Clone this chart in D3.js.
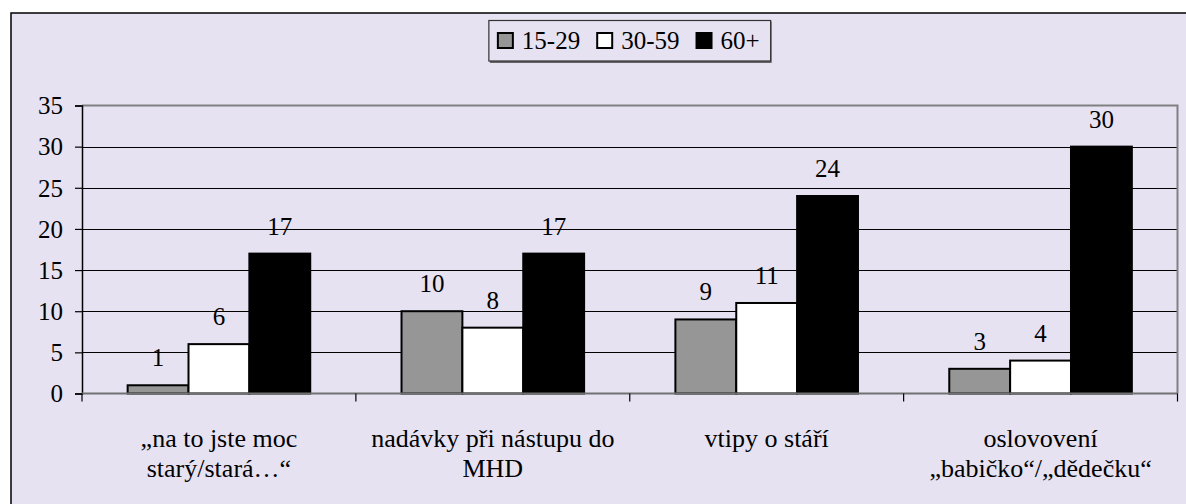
<!DOCTYPE html>
<html>
<head>
<meta charset="utf-8">
<script src="https://cdn.jsdelivr.net/npm/d3@7"></script>
<style>
  html, body { margin: 0; padding: 0; background: #ffffff; }
  svg { display: block; }
</style>
</head>
<body>
<svg id="chart" width="1186" height="504"></svg>
<script>
// Categories (x axis), two-line labels as shown under each group
const categories = ["na to jste moc", "nadávky", "vtipy", "oslovování"];
const categoryLabels = [
  ["\u201Ena to jste moc", "starý/stará\u2026\u201C"],
  ["nadávky při nástupu do", "MHD"],
  ["vtipy o stáří"],
  ["oslovovení", "\u201Ebabičko\u201C/\u201Ed\u011Bdečku\u201C"]
];

// Age groups (series)
const series = ["15-29", "30-59", "60+"];
const values1529 = [1, 10, 9, 3];
const values3059 = [6, 8, 11, 4];
const values60 = [17, 17, 24, 30];
const seriesValues = [values1529, values3059, values60];
const seriesColors = ["#969696", "#ffffff", "#000000"];

// Y axis ticks
const yTicks = [0, 5, 10, 15, 20, 25, 30, 35];

const svg = d3.select("#chart");
const FONT = 25;
const CAT_FONT = 26;
const FAMILY = "Liberation Serif, Times New Roman, serif";
const BG = "#e6e2f2";

// Chart area frame
svg.append("rect")
  .attr("x", 11).attr("y", 13)
  .attr("width", 1186).attr("height", 520)
  .attr("fill", BG)
  .attr("stroke", "#000").attr("stroke-width", 1.5);

const plot = { left: 82, right: 1177.5, top: 105.5, bottom: 393.5 };

const x0 = d3.scaleBand().domain(categories).range([plot.left, plot.right]).padding(0);
const x1 = d3.scaleBand().domain(series).range([0, x0.bandwidth()])
  .paddingInner(0).paddingOuter(0.75);
const y = d3.scaleLinear().domain([0, 35]).range([plot.bottom, plot.top]);

// Horizontal gridlines
svg.append("g").selectAll("line")
  .data(yTicks.filter(t => t > 0 && t < 35))
  .join("line")
  .attr("x1", plot.left).attr("x2", plot.right)
  .attr("y1", d => Math.round(y(d)) + 0.5).attr("y2", d => Math.round(y(d)) + 0.5)
  .attr("stroke", "#000").attr("stroke-width", 1);

// Plot area border (top and right)
svg.append("path")
  .attr("d", `M${plot.left},${y(35)}H${plot.right}V${plot.bottom}`)
  .attr("fill", "none").attr("stroke", "#808080").attr("stroke-width", 2);

// Bars
const groups = svg.append("g").selectAll("g")
  .data(categories)
  .join("g")
  .attr("transform", d => `translate(${x0(d)},0)`);

groups.selectAll("rect")
  .data((c, i) => series.map((s, j) => ({ s, j, v: seriesValues[j][i] })))
  .join("rect")
  .attr("x", d => x1(d.s))
  .attr("y", d => y(d.v))
  .attr("width", x1.bandwidth())
  .attr("height", d => y(0) - y(d.v))
  .attr("fill", d => seriesColors[d.j])
  .attr("stroke", "#000").attr("stroke-width", 2);

// Value labels above bars
groups.selectAll("text.val")
  .data((c, i) => series.map((s, j) => ({ s, j, v: seriesValues[j][i] })))
  .join("text")
  .attr("class", "val")
  .attr("x", d => x1(d.s) + x1.bandwidth() / 2)
  .attr("y", d => y(d.v) - 19)
  .attr("text-anchor", "middle")
  .attr("font-family", FAMILY)
  .attr("font-size", FONT)
  .text(d => d.v);

// Y axis
const yAxis = d3.axisLeft(y).tickValues(yTicks).tickSize(7).tickPadding(12).tickFormat(d3.format("d"));
const gy = svg.append("g").attr("transform", `translate(${plot.left},0)`).call(yAxis)
  .attr("font-family", FAMILY).attr("font-size", FONT);
gy.select(".domain").attr("stroke", "#000").attr("stroke-width", 1.5);
gy.selectAll(".tick line").attr("stroke", "#000").attr("stroke-width", 1.2);
gy.selectAll(".tick text").attr("fill", "#000").attr("dy", "0.33em");

// X axis line and category boundary ticks
svg.append("line")
  .attr("x1", plot.left).attr("x2", plot.right)
  .attr("y1", y(0)).attr("y2", y(0))
  .attr("stroke", "#707070").attr("stroke-width", 2);
const boundaries = categories.map(c => x0(c)).concat([plot.right]);
svg.append("g").selectAll("line")
  .data(boundaries)
  .join("line")
  .attr("x1", d => d).attr("x2", d => d)
  .attr("y1", y(0)).attr("y2", y(0) + 8)
  .attr("stroke", "#000").attr("stroke-width", 1.2);

// Category labels
const catLabels = svg.append("g").selectAll("text")
  .data(categories)
  .join("text")
  .attr("text-anchor", "middle")
  .attr("font-family", FAMILY)
  .attr("font-size", CAT_FONT)
  .attr("fill", "#000")
  .attr("x", d => x0(d) + x0.bandwidth() / 2);
catLabels.each(function (d, i) {
  d3.select(this).selectAll("tspan")
    .data(categoryLabels[i])
    .join("tspan")
    .attr("x", x0(d) + x0.bandwidth() / 2)
    .attr("y", (t, k) => 447 + k * 30)
    .text(t => t);
});

// Legend
const legend = svg.append("g");
const legendShadow = legend.append("rect").attr("fill", "#666");
const legendBox = legend.append("rect")
  .attr("fill", BG)
  .attr("stroke", "#333").attr("stroke-width", 1.2);
const sw = 17;
let lx = 0;
const items = legend.selectAll("g.item")
  .data(series)
  .join("g").attr("class", "item");
items.each(function (s, i) {
  const g = d3.select(this).attr("transform", `translate(${lx},0)`);
  g.append("rect")
    .attr("x", 1).attr("y", -sw + 1).attr("width", sw - 2).attr("height", sw - 2)
    .attr("fill", seriesColors[i]).attr("stroke", "#000").attr("stroke-width", 2);
  const t = g.append("text").attr("x", 25).attr("y", 0)
    .attr("font-family", FAMILY)
    .attr("font-size", FONT)
    .attr("fill", "#000")
    .text(s);
  lx += 25 + t.node().getComputedTextLength() + 16;
});
const legendWidth = lx - 16;
const legendCx = (plot.left + plot.right) / 2;
const legendX = legendCx - legendWidth / 2 - 1.5;
legend.attr("transform", `translate(${legendX},49)`);
legendBox
  .attr("x", -8).attr("y", -28.5)
  .attr("width", legendWidth + 19).attr("height", 40.5);
legendShadow
  .attr("x", -7).attr("y", -27.5)
  .attr("width", legendWidth + 19).attr("height", 41.5);
</script>
</body>
</html>
